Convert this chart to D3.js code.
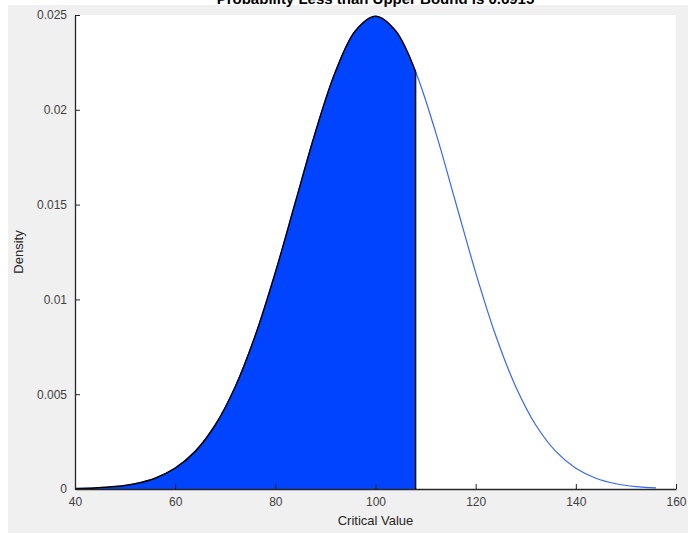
<!DOCTYPE html>
<meta charset="utf-8">
<style>
body { margin: 0; background: #fff; }
.axis text { font-family: 'Liberation Sans', Arial, sans-serif; font-size: 12px; fill: #404040; }
.axis line, .axis path { stroke: #262626; }
.label { font-family: 'Liberation Sans', Arial, sans-serif; font-size: 13px; fill: #262626; }
</style>
<div id='chart'></div>
<script src='https://cdn.jsdelivr.net/npm/d3@7'></script>
<script>

// critical values and density
const xValues = [40, 44, 48, 52, 56, 60, 64, 68, 72, 76, 80, 84, 88, 92, 96, 100,
                 104, 108, 112, 116, 120, 124, 128, 132, 136, 140, 144, 148, 152, 156];
const density = [0.000022, 0.0000545, 0.000127, 0.000277, 0.000569, 0.001096, 0.001984, 0.003375,
                 0.005393, 0.008095, 0.011415, 0.015123, 0.018821, 0.022004, 0.024167, 0.024934,
                 0.024167, 0.022004, 0.018821, 0.015123, 0.011415, 0.008095, 0.005393, 0.003375,
                 0.001984, 0.001096, 0.000569, 0.000277, 0.000127, 0.0000545];
const upperBound = 108;
const probability = '0.6915';

const xTicks = [40, 60, 80, 100, 120, 140, 160];
const yTicks = [0, 0.005, 0.01, 0.015, 0.02, 0.025];
const yTickLabels = ['0', '0.005', '0.01', '0.015', '0.02', '0.025'];

const W = 688, H = 533;
const margin = {top: 15, right: 12, bottom: 44, left: 75};
const width = W - margin.left - margin.right,
      height = H - margin.top - margin.bottom;

const svg = d3.select('#chart').append('svg')
    .attr('width', W)
    .attr('height', H);

// figure background
svg.append('rect')
    .attr('x', 8).attr('y', 5)
    .attr('width', W - 8).attr('height', H - 5)
    .attr('fill', '#f0f0f0');

const g = svg.append('g')
    .attr('transform', 'translate(' + margin.left + ',' + margin.top + ')');

g.append('rect')
    .attr('width', width).attr('height', height)
    .attr('fill', '#fff');

const x = d3.scaleLinear().domain([40, 160]).range([0, width]);
const y = d3.scaleLinear().domain([0, 0.025]).range([height, 0]);

const data = xValues.map((v, i) => ({x: v, d: density[i]}));
const shaded = data.filter(p => p.x <= upperBound);

const area = d3.area()
    .x(p => x(p.x))
    .y0(y(0))
    .y1(p => y(p.d))
    .curve(d3.curveCatmullRom);

const line = d3.line()
    .x(p => x(p.x))
    .y(p => y(p.d))
    .curve(d3.curveCatmullRom);

g.append('path')
    .datum(shaded)
    .attr('d', area)
    .attr('fill', '#0044ff');

g.append('path')
    .datum(data)
    .attr('d', line)
    .attr('fill', 'none')
    .attr('stroke', '#3366ff')
    .attr('stroke-width', 1.2);

g.append('path')
    .datum(shaded)
    .attr('d', line)
    .attr('fill', 'none')
    .attr('stroke', '#000')
    .attr('stroke-width', 1.5);

const last = shaded[shaded.length - 1];
g.append('line')
    .attr('x1', x(last.x)).attr('x2', x(last.x))
    .attr('y1', y(last.d)).attr('y2', y(0))
    .attr('stroke', '#000')
    .attr('stroke-width', 1.5);

const xAxis = d3.axisBottom(x)
    .tickValues(xTicks)
    .tickSizeInner(-5)
    .tickSizeOuter(0)
    .tickPadding(8);

const yAxis = d3.axisLeft(y)
    .tickValues(yTicks)
    .tickFormat((d, i) => yTickLabels[i])
    .tickSizeInner(-5)
    .tickSizeOuter(0)
    .tickPadding(8);

g.append('g')
    .attr('class', 'axis')
    .attr('transform', 'translate(0,' + height + ')')
    .call(xAxis);

g.append('g')
    .attr('class', 'axis')
    .call(yAxis);

g.selectAll('.axis path').attr('stroke-width', 1.3);

g.append('text')
    .attr('class', 'label')
    .attr('x', width / 2).attr('y', height + 36)
    .attr('text-anchor', 'middle')
    .text('Critical Value');

g.append('text')
    .attr('class', 'label')
    .attr('transform', 'translate(-52,' + height / 2 + ') rotate(-90)')
    .attr('text-anchor', 'middle')
    .text('Density');

// title sits partly above the top edge, as in the source image
svg.append('text')
    .attr('x', margin.left + width / 2).attr('y', 4)
    .attr('text-anchor', 'middle')
    .style('font-family', "'Liberation Sans', Arial, sans-serif")
    .style('font-size', '15px')
    .style('font-weight', 'bold')
    .attr('fill', '#000')
    .text('Probability Less than Upper Bound is ' + probability);

</script>
